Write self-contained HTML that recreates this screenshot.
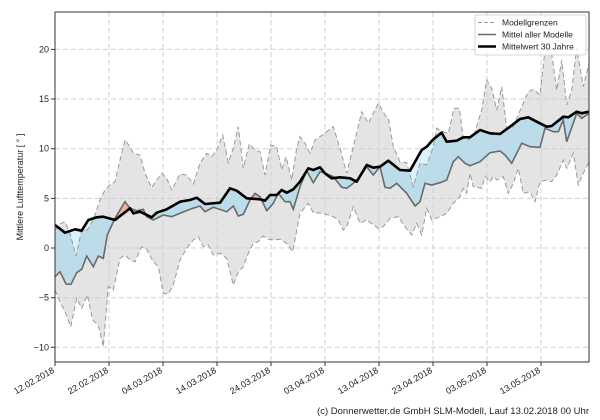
<!DOCTYPE html>
<html><head><meta charset="utf-8"><style>
html,body{margin:0;padding:0;background:#fff;}
svg{display:block;font-family:"Liberation Sans","DejaVu Sans",sans-serif;}
</style></head><body>
<svg id="s" width="600" height="420" viewBox="0 0 600 420" xmlns="http://www.w3.org/2000/svg">
<defs>
<clipPath id="plot"><rect x="55" y="12" width="534" height="350"/></clipPath>
<clipPath id="belowBlack"><path id="cbb"/></clipPath>
<clipPath id="aboveBlack"><path id="cab"/></clipPath>
</defs>
<rect x="0" y="0" width="600" height="420" fill="#fff"/>
<g clip-path="url(#plot)">
<path id="band" fill="#e4e4e4" stroke="none"/>
<g stroke="#cfcfcf" stroke-width="1" stroke-dasharray="5,3">
<line x1="109" y1="12" x2="109" y2="362"/><line x1="163" y1="12" x2="163" y2="362"/>
<line x1="217" y1="12" x2="217" y2="362"/><line x1="271" y1="12" x2="271" y2="362"/>
<line x1="325" y1="12" x2="325" y2="362"/><line x1="379" y1="12" x2="379" y2="362"/>
<line x1="433" y1="12" x2="433" y2="362"/><line x1="487" y1="12" x2="487" y2="362"/>
<line x1="541" y1="12" x2="541" y2="362"/>
<line x1="55" y1="49.4" x2="589" y2="49.4"/><line x1="55" y1="99" x2="589" y2="99"/>
<line x1="55" y1="148.7" x2="589" y2="148.7"/><line x1="55" y1="198.4" x2="589" y2="198.4"/>
<line x1="55" y1="248" x2="589" y2="248"/><line x1="55" y1="297.7" x2="589" y2="297.7"/>
<line x1="55" y1="347.3" x2="589" y2="347.3"/>
</g>
<g clip-path="url(#belowBlack)"><path id="blueA" fill="#bcdcea"/></g>
<g clip-path="url(#belowBlack)"><path id="cyanA" fill="#d9f2fb"/></g>
<g clip-path="url(#aboveBlack)"><path id="salA" fill="#f0b0a0"/></g>
<polyline id="up" fill="none" stroke="#999" stroke-width="1" stroke-dasharray="5,3"/>
<polyline id="lo" fill="none" stroke="#999" stroke-width="1" stroke-dasharray="5,3"/>
<polyline id="mn" fill="none" stroke="#6a6a6a" stroke-width="1.6"/>
<polyline id="bk" fill="none" stroke="#000" stroke-width="2.6" stroke-linejoin="round"/>
</g>
<rect x="55" y="12" width="534" height="350" fill="none" stroke="#333" stroke-width="1"/>
<g stroke="#333" stroke-width="1">
<line x1="51" y1="49.4" x2="55" y2="49.4"/><line x1="51" y1="99" x2="55" y2="99"/>
<line x1="51" y1="148.7" x2="55" y2="148.7"/><line x1="51" y1="198.4" x2="55" y2="198.4"/>
<line x1="51" y1="248" x2="55" y2="248"/><line x1="51" y1="297.7" x2="55" y2="297.7"/>
<line x1="51" y1="347.3" x2="55" y2="347.3"/>
<line x1="55" y1="362" x2="55" y2="366"/><line x1="109" y1="362" x2="109" y2="366"/>
<line x1="163" y1="362" x2="163" y2="366"/><line x1="217" y1="362" x2="217" y2="366"/>
<line x1="271" y1="362" x2="271" y2="366"/><line x1="325" y1="362" x2="325" y2="366"/>
<line x1="379" y1="362" x2="379" y2="366"/><line x1="433" y1="362" x2="433" y2="366"/>
<line x1="487" y1="362" x2="487" y2="366"/><line x1="541" y1="362" x2="541" y2="366"/>
</g>
<g font-size="9" fill="#222" text-anchor="end">
<text x="49" y="52.5">20</text><text x="49" y="102">15</text><text x="49" y="151.7">10</text>
<text x="49" y="201.4">5</text><text x="49" y="251">0</text><text x="49" y="300.7">−5</text>
<text x="49" y="350.3">−10</text>
</g>
<text transform="translate(23,187) rotate(-90)" font-size="9" fill="#222" text-anchor="middle">Mittlere Lufttemperatur [ ° ]</text>
<g font-size="9" fill="#222" text-anchor="end">
<text transform="translate(55,372) rotate(-30)">12.02.2018</text>
<text transform="translate(109,372) rotate(-30)">22.02.2018</text>
<text transform="translate(163,372) rotate(-30)">04.03.2018</text>
<text transform="translate(217,372) rotate(-30)">14.03.2018</text>
<text transform="translate(271,372) rotate(-30)">24.03.2018</text>
<text transform="translate(325,372) rotate(-30)">03.04.2018</text>
<text transform="translate(379,372) rotate(-30)">13.04.2018</text>
<text transform="translate(433,372) rotate(-30)">23.04.2018</text>
<text transform="translate(487,372) rotate(-30)">03.05.2018</text>
<text transform="translate(541,372) rotate(-30)">13.05.2018</text>
</g>
<text x="589" y="414" font-size="9.5" fill="#222" text-anchor="end">(c) Donnerwetter.de GmbH SLM-Modell, Lauf 13.02.2018 00 Uhr</text>
<rect x="475" y="15" width="111" height="40" rx="2" fill="#fff" fill-opacity="0.85" stroke="#ccc" stroke-width="0.8"/>
<line x1="478" y1="22.5" x2="496" y2="22.5" stroke="#999" stroke-width="1" stroke-dasharray="4,2"/>
<line x1="478" y1="34.5" x2="496" y2="34.5" stroke="#6a6a6a" stroke-width="1.6"/>
<line x1="478" y1="46.5" x2="496" y2="46.5" stroke="#000" stroke-width="2.6"/>
<g font-size="8.5" fill="#222"><text x="502" y="25.5">Modellgrenzen</text><text x="502" y="37.5">Mittel aller Modelle</text><text x="502" y="49.5">Mittelwert 30 Jahre</text></g>
</svg>
<script>
function z1(a){var r=[];for(var i=0;i<a.length;i+=2)r.push([a[i]/3,a[i+1]/3]);return r;}
function z2(a){var r=[];for(var i=0;i<a.length;i+=2)r.push([300+a[i]/3,a[i+1]/3]);return r;}
function fix(p){p[0][0]=55;p[p.length-1][0]=589;return p;}
var bk=fix([[55,225],[65,232.7],[75,229.3],[81.7,230.7],[88.3,220],[96.7,217.3],[103.3,216.7],[115,220],[130,208.3],[133.3,213.3],[140,211.7],[151.7,217.3],[156.7,212.7],[166.7,209.3],[180,201.7],[190,200],[196.7,197.7],[205,204],[220,202.7],[230,188.3],[236.7,190.7],[246.7,198.3],[260,199.3],[265,200.7],[270,195],[276.7,195],[281.7,190],[286.7,192.7],[293.3,189.3],[300,181.7],[308.3,168.3],[313.3,170],[320,167.3],[325,173.3],[331.7,178.3],[340,177.3],[350,178.3],[356.7,181.7],[366.7,165],[373.3,167.7],[380,166.7],[388.3,160.7],[400,170],[410,170.7],[421.7,150],[426.7,146.7],[433.3,139.3],[441.7,132.7],[446.7,141.7],[456.7,140.7],[463.3,137.3],[470,137.3],[480,130],[490,133.3],[500,134],[510,126.7],[520,119],[528.3,117.3],[536.7,121.7],[546.7,126.7],[551.7,126],[563.3,116.7],[568.3,117.3],[576.7,111.7],[581.7,113.3],[589,111.7]]);
var mn=fix(z1([165,830,180,815,198,852,213,853,230,818,245,808,260,768,280,800,295,768,310,775,322,705,345,655,375,605,390,625,410,632,430,628,440,650,460,660,490,645,515,650,540,640,570,628,600,618,615,635,640,622,665,630,680,635,700,618,715,648,730,643,750,600,765,580,780,590,800,632,820,610,835,580,855,605,870,605,880,628]).concat(z2([0,560,20,512,40,548,60,515,75,520,100,530,125,562,140,565,160,550,180,530,200,500,220,525,240,500,255,562,270,565,290,550,320,580,345,618,360,605,375,550,395,555,420,548,440,540,460,485,475,470,495,490,510,497,540,485,570,458,600,453,615,465,635,490,665,430,690,440,720,442,735,385,760,395,775,395,790,360,800,425,830,340,845,355,868,340])));
var up=fix(z1([165,690,180,672,195,665,210,700,228,768,245,690,262,690,280,660,300,600,315,570,330,555,345,545,360,480,375,420,390,440,400,460,420,465,435,520,455,563,470,540,485,520,500,535,515,570,540,522,560,525,580,552,600,490,620,460,635,470,650,450,668,405,685,488,700,445,715,380,730,505,748,432,765,450,780,455,795,525,812,435,830,440,845,510,858,470,875,540,890,445]).concat(z2([0,410,15,430,30,460,45,420,60,410,80,395,100,380,120,445,140,520,160,440,185,335,205,370,235,310,255,345,265,355,280,440,300,485,320,488,340,560,360,490,380,495,400,440,410,385,430,395,445,400,462,325,478,325,490,415,505,420,525,395,545,330,560,240,575,265,590,330,605,260,620,385,640,380,665,320,685,275,700,268,720,285,735,150,750,125,770,270,785,180,800,315,815,270,830,145,850,260,868,190])));
var lo=fix(z1([165,870,180,905,195,935,212,980,230,895,245,925,262,885,278,960,295,975,310,1040,325,860,340,870,360,775,375,765,390,780,405,785,425,740,440,748,460,785,475,800,490,880,505,882,520,855,540,780,560,745,580,720,595,710,610,740,625,735,640,765,660,760,680,775,700,855,715,815,730,800,745,760,760,730,775,725,790,708,805,718,820,720,840,718,860,730,878,755]).concat(z2([0,640,25,610,40,638,70,640,100,650,115,660,130,690,140,680,160,620,180,670,200,660,235,685,250,680,270,655,295,650,315,680,335,705,350,670,365,705,380,625,395,660,420,650,440,640,460,610,480,590,490,565,500,580,510,520,520,560,545,565,555,530,570,545,580,530,590,540,610,530,625,580,640,550,655,505,670,580,690,575,705,605,720,545,740,540,755,545,770,525,790,480,800,505,820,460,835,555,850,520,868,485])));
function pts(p){return p.map(function(q){return q[0].toFixed(1)+","+q[1].toFixed(1);}).join(" ");}
function poly(p){return "M"+p.map(function(q){return q[0].toFixed(1)+" "+q[1].toFixed(1);}).join(" L");}
function g(id){return document.getElementById(id);}
g("bk").setAttribute("points",pts(bk));
g("mn").setAttribute("points",pts(mn));
g("up").setAttribute("points",pts(up));
g("lo").setAttribute("points",pts(lo));
g("band").setAttribute("d",poly(up.concat(lo.slice().reverse()))+" Z");
g("cbb").setAttribute("d",poly(bk)+" L589 400 L55 400 Z");
g("cab").setAttribute("d",poly(bk)+" L589 0 L55 0 Z");
g("blueA").setAttribute("d",poly(mn)+" L589 0 L55 0 Z");
g("cyanA").setAttribute("d",poly(up)+" L589 0 L55 0 Z");
g("salA").setAttribute("d",poly(mn)+" L589 400 L55 400 Z");
</script>
</body></html>
